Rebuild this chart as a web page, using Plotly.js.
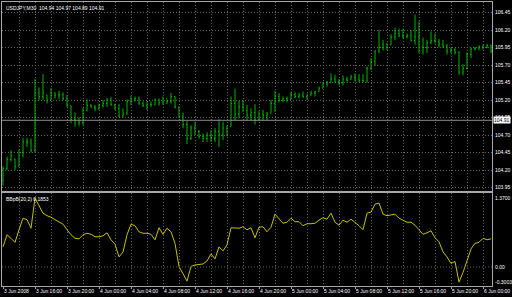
<!DOCTYPE html>
<html><head><meta charset="utf-8">
<script src="https://cdn.plot.ly/plotly-3.0.1.min.js"></script>
<style>html,body{margin:0;padding:0;background:#000;}#chart{width:512px;height:297px;}</style>
</head><body><div id="chart"></div>
<script>
const symbolTitle = 'USDJPY,M30  104.94 104.97 104.89 104.91';
const indicatorTitle = 'BBpB(20,2) 0.1853';
const lastPrice = 104.91;
const lastPriceLabel = '104.91';

const high = [104.25,104.39,104.48,104.36,104.49,104.66,104.66,104.65,105.50,105.38,
105.57,105.27,105.37,105.31,105.33,105.31,105.27,105.12,105.02,104.95,
105.09,105.21,105.14,105.13,105.15,105.20,105.23,105.24,105.15,105.14,
105.08,105.21,105.26,105.25,105.25,105.18,105.18,105.18,105.22,105.22,
105.25,105.21,105.30,105.25,105.10,105.02,104.90,104.84,104.89,104.77,
104.72,104.74,104.77,104.80,104.93,104.89,104.84,105.25,105.36,105.19,
105.20,105.13,105.08,105.14,105.04,105.06,105.03,105.20,105.33,105.30,
105.25,105.25,105.32,105.31,105.30,105.32,105.28,105.33,105.33,105.39,
105.46,105.47,105.58,105.56,105.50,105.55,105.53,105.56,105.58,105.57,
105.57,105.68,105.80,105.91,106.20,106.06,106.01,106.14,106.23,106.22,
106.22,106.15,106.20,106.42,106.32,106.09,106.06,106.18,106.15,106.07,
106.06,106.00,105.95,105.94,105.90,105.71,105.88,105.95,105.96,105.98,
105.99,106.00,105.99];
const low = [103.98,104.20,104.32,104.20,104.25,104.38,104.53,104.45,104.45,105.20,
105.20,105.15,105.20,105.22,105.21,105.20,105.10,104.87,104.82,104.83,
104.84,105.04,105.09,105.04,105.06,105.09,105.10,105.12,105.06,104.95,
104.95,104.99,105.13,105.18,105.13,105.10,105.06,105.10,105.13,105.12,
105.13,105.14,105.15,105.08,104.94,104.80,104.57,104.63,104.71,104.65,
104.60,104.60,104.60,104.60,104.53,104.63,104.68,104.82,104.91,104.94,
105.03,104.91,104.91,104.85,104.90,104.91,104.90,105.01,105.03,105.17,
105.17,105.17,105.21,105.23,105.22,105.23,105.20,105.26,105.25,105.32,
105.37,105.39,105.45,105.44,105.41,105.41,105.46,105.49,105.46,105.45,
105.46,105.45,105.63,105.69,105.87,105.91,105.91,105.99,106.06,106.10,
106.08,106.08,106.04,105.99,105.87,105.85,105.87,106.00,106.01,105.95,
105.94,105.85,105.87,105.85,105.56,105.55,105.64,105.80,105.91,105.91,
105.92,105.94,105.87];
const open = [104.05,104.22,104.35,104.36,104.26,104.45,104.60,104.60,104.48,105.30,
105.25,105.27,105.20,105.30,105.27,105.28,105.22,105.12,104.92,104.90,
104.88,105.05,105.12,105.10,105.08,105.12,105.15,105.20,105.13,105.08,
104.97,105.00,105.18,105.20,105.22,105.15,105.12,105.14,105.13,105.20,
105.16,105.22,105.18,105.25,105.10,104.97,104.85,104.65,104.80,104.75,
104.68,104.65,104.70,104.65,104.75,104.70,104.80,104.82,105.15,105.00,
105.10,105.05,104.98,105.02,104.92,105.00,104.98,105.01,105.15,105.25,
105.20,105.22,105.21,105.28,105.25,105.27,105.25,105.27,105.30,105.32,
105.37,105.43,105.45,105.50,105.46,105.45,105.50,105.49,105.53,105.50,
105.48,105.47,105.65,105.75,105.90,105.95,106.00,105.99,106.10,106.15,
106.12,106.10,106.12,106.05,106.10,105.95,105.95,106.02,106.05,106.03,
106.00,105.97,105.90,105.92,105.88,105.60,105.65,105.85,105.93,105.94,
105.96,105.95,105.98];
const close = [104.22,104.35,104.40,104.25,104.45,104.60,104.60,104.48,105.30,105.25,
105.30,105.20,105.30,105.27,105.28,105.22,105.12,104.92,104.90,104.88,
105.05,105.12,105.10,105.08,105.12,105.15,105.20,105.13,105.08,104.97,
105.00,105.18,105.20,105.22,105.15,105.12,105.14,105.13,105.20,105.16,
105.22,105.18,105.25,105.10,104.97,104.85,104.65,104.80,104.75,104.68,
104.65,104.70,104.65,104.75,104.70,104.80,104.75,105.15,105.00,105.10,
105.05,104.98,105.02,104.92,105.00,104.98,105.00,105.15,105.25,105.20,
105.22,105.20,105.28,105.25,105.27,105.25,105.27,105.30,105.32,105.37,
105.43,105.45,105.50,105.46,105.45,105.50,105.48,105.53,105.50,105.48,
105.47,105.65,105.75,105.90,105.95,106.00,105.95,106.10,106.15,106.12,
106.10,106.12,106.05,106.10,105.95,105.95,106.02,106.05,106.03,106.00,
105.97,105.90,105.92,105.88,105.60,105.65,105.85,105.93,105.94,105.96,
105.95,105.98,105.90];
const bbpb = [0.40,0.64,0.57,0.49,0.74,0.97,0.94,0.77,1.37,1.22,
1.07,1.02,0.99,0.94,0.90,0.85,0.74,0.64,0.57,0.56,
0.64,0.67,0.65,0.60,0.60,0.62,0.68,0.54,0.45,0.20,
0.30,0.64,0.85,0.82,0.70,0.67,0.67,0.65,0.54,0.78,
0.65,0.77,0.70,0.47,0.01,-0.15,-0.28,0.01,0.04,0.05,
0.06,0.12,0.26,0.16,0.40,0.32,0.44,0.78,0.77,0.77,
0.80,0.74,0.78,0.58,0.79,0.80,0.70,0.79,1.05,0.95,
0.87,0.89,0.97,0.90,0.90,0.82,0.86,0.86,0.87,0.93,
0.98,0.95,1.07,0.89,0.83,0.93,0.89,0.95,0.89,0.82,
0.74,1.07,1.09,1.25,1.27,1.05,1.02,1.03,1.05,0.97,
0.93,0.89,0.89,0.83,0.74,0.65,0.68,0.72,0.58,0.50,
0.30,0.20,0.07,0.11,-0.30,-0.11,0.12,0.36,0.47,0.49,
0.57,0.54,0.56];

const priceTicks = [103.95,104.20,104.45,104.70,104.95,105.20,105.45,105.70,105.95,106.20,106.45];
const priceTickLabels = ['103.95','104.20','104.45','104.70','104.95','105.20','105.45','105.70','105.95','106.20','106.45'];
const timeTickBars = [0,8,16,24,32,40,48,56,64,72,80,88,96,104,112,120];
const timeTickLabels = ['3 Jun 2008','3 Jun 16:00','3 Jun 20:00','4 Jun 00:00','4 Jun 04:00','4 Jun 08:00',
'4 Jun 12:00','4 Jun 16:00','4 Jun 20:00','5 Jun 00:00','5 Jun 04:00','5 Jun 08:00','5 Jun 12:00',
'5 Jun 16:00','5 Jun 20:00','6 Jun 00:00'];
const bbTicks = [1.37, 0, -0.3003];
const bbTickLabels = ['1.3700','0.00','-0.3003'];

const barIdx = high.map((_, i) => i);

const GRID = '#646464';
const DASH = '1px,2px';
const LINE = '#a8a8a8';
const fnt = {family: 'Liberation Sans, Arial, sans-serif', size: 5, color: '#ffffff'};

const traces = [
  {type: 'ohlc', x: barIdx, open: open, high: high, low: low, close: close,
   xaxis: 'x2', yaxis: 'y', tickwidth: 0.25,
   increasing: {line: {color: '#00b400', width: 1}},
   decreasing: {line: {color: '#00b400', width: 1}}, hoverinfo: 'skip'},
  {type: 'scatter', mode: 'lines', x: barIdx, y: bbpb, xaxis: 'x', yaxis: 'y2',
   line: {color: '#c8c000', width: 1}, hoverinfo: 'skip'}
];

const xCommon = {
  range: [-0.25, 122.25], showline: true, mirror: true, linecolor: LINE, linewidth: 1,
  zeroline: false, fixedrange: true, rangeslider: {visible: false},
  tickmode: 'array', tickvals: timeTickBars, showgrid: true, gridcolor: GRID, griddash: DASH,
  minor: {tickmode: 'linear', tick0: 4, dtick: 8, showgrid: true, gridcolor: GRID, griddash: DASH, ticks: ''}
};

const layout = {
  width: 512, height: 297,
  margin: {l: 2, r: 20, t: 2, b: 11, pad: 0},
  paper_bgcolor: '#000000', plot_bgcolor: '#000000',
  showlegend: false, font: fnt, dragmode: false,
  xaxis: Object.assign({}, xCommon, {
    domain: [0, 1], anchor: 'y2', ticktext: timeTickLabels, ticks: 'outside', ticklen: 2,
    tickcolor: LINE, ticklabelposition: 'outside right', tickfont: fnt, tickangle: 0
  }),
  xaxis2: Object.assign({}, xCommon, {
    domain: [0, 1], anchor: 'y', showticklabels: false, ticks: ''
  }),
  yaxis: {
    domain: [0.3345, 1], anchor: 'x2', side: 'right', range: [103.9, 106.6],
    tickmode: 'array', tickvals: priceTicks, ticktext: priceTickLabels,
    showgrid: true, gridcolor: GRID, griddash: DASH, zeroline: false,
    showline: true, mirror: true, linecolor: LINE, linewidth: 1,
    ticks: 'outside', ticklen: 1, tickcolor: '#000', tickfont: fnt, fixedrange: true
  },
  yaxis2: {
    domain: [0, 0.3275], anchor: 'x', side: 'right', range: [-0.378, 1.471],
    tickmode: 'array', tickvals: bbTicks, ticktext: bbTickLabels,
    showgrid: false, zeroline: false,
    showline: true, mirror: true, linecolor: LINE, linewidth: 1,
    ticks: 'outside', ticklen: 1, tickcolor: '#000', tickfont: fnt, fixedrange: true
  },
  shapes: [
    {type: 'line', xref: 'paper', x0: 0, x1: 1, yref: 'y', y0: lastPrice, y1: lastPrice,
     line: {color: '#8c8c8c', width: 1}},
    {type: 'line', xref: 'paper', x0: 0, x1: 1, yref: 'y2', y0: 0, y1: 0,
     line: {color: GRID, width: 1, dash: DASH}}
  ],
  annotations: [
    {xref: 'paper', yref: 'paper', x: 0, y: 1, xanchor: 'left', yanchor: 'top',
     text: symbolTitle, showarrow: false, font: fnt, xshift: 2, yshift: -1},
    {xref: 'paper', yref: 'paper', x: 0, y: 0.3275, xanchor: 'left', yanchor: 'top',
     text: indicatorTitle, showarrow: false, font: fnt, xshift: 2, yshift: -1},
    {xref: 'paper', yref: 'y', x: 1, y: lastPrice, xanchor: 'left', yanchor: 'middle',
     text: lastPriceLabel, showarrow: false, bgcolor: '#ffffff', borderpad: 0,
     font: {family: fnt.family, size: 5, color: '#000000'}, xshift: 1}
  ]
};

Plotly.newPlot('chart', traces, layout, {staticPlot: true, displayModeBar: false});
</script>
</body></html>
